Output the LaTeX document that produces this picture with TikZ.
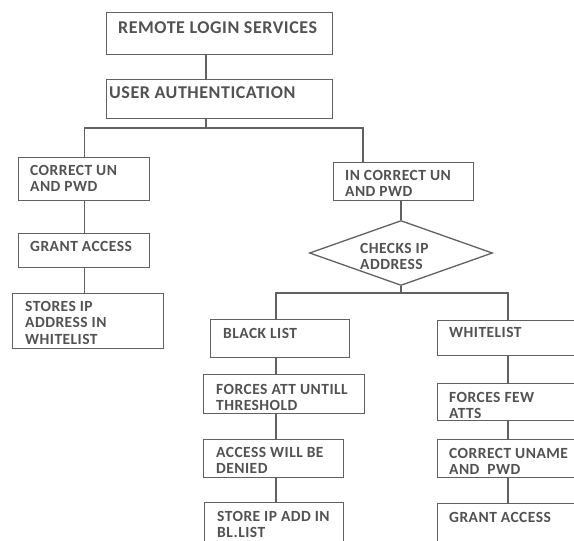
\documentclass[tikz,border=0pt]{standalone}
\usepackage{fontspec}
\setmainfont{Carlito}[LetterSpace=3]
\usetikzlibrary{shapes.geometric}

\begin{document}
\begin{tikzpicture}[x=1pt, y=-1pt]
	\tikzset{
		box/.style={draw=black!62, line width=1.3pt, rectangle, anchor=north west, inner sep=0pt},
		txt/.style={anchor=north west, inner sep=0pt, align=left, text=black!68,
			font=\bfseries\fontsize{15.5}{16.5}\selectfont},
		bigtxt/.style={txt, font=\bfseries\fontsize{18}{20}\selectfont},
		link/.style={draw=black!62, line width=1.3pt},
	}
	% box: name, corner, size, text offset, text style, text
	\def\Box(#1)(#2,#3)(#4,#5)(#6,#7)[#8]#9{%
		\node[box, minimum width=#4pt, minimum height=#5pt] (#1) at (#2,#3) {};
		\node[#8] (#1-t) at ([shift={(#6,#7)}]#1.north west) {#9};}
	\useasboundingbox (0,0) rectangle (574,541);

	% top of the chart
	\Box(remote)(106,12)(226,42)(12,9)[bigtxt]{REMOTE LOGIN SERVICES}
	\Box(auth)(106,79)(226,39)(3,7)[bigtxt]{USER AUTHENTICATION}

	% correct login branch
	\Box(correct)(18,157)(131,43)(12,8)[txt]{CORRECT UN\\AND PWD}
	\Box(grant)(18,233)(131,34)(12,8)[txt]{GRANT ACCESS}
	\Box(stores)(12,293)(151,55)(13,8)[txt]{STORES IP\\ADDRESS IN\\WHITELIST}

	% wrong login branch
	\Box(incorrect)(333,162)(140,38)(12,8)[txt]{IN CORRECT UN\\AND PWD}
	\node[diamond, draw=black!62, line width=1.3pt, inner sep=0pt,
		minimum width=183pt, minimum height=65pt] (check) at (401,253) {};
	\node[txt] (check-t) at (360,243) {CHECKS IP\\ADDRESS};

	% black list column
	\Box(black)(210,319)(139,38)(13,9)[txt]{BLACK LIST}
	\Box(forcesatt)(203,374)(161,39)(13,10)[txt]{FORCES ATT UNTILL\\THRESHOLD}
	\Box(denied)(203,439)(140,38)(13,8)[txt]{ACCESS WILL BE\\DENIED}
	\Box(storebl)(204,502)(139,40)(13,9)[txt]{STORE IP ADD IN\\BL.LIST}

	% white list column
	\Box(white)(437,320)(142,35)(12,7)[txt]{WHITELIST}
	\Box(fewatts)(437,383)(142,37)(12,9)[txt]{FORCES FEW\\ATTS}
	\Box(uname)(437,439)(142,38)(12,9)[txt]{CORRECT UNAME\\AND\ \ PWD}
	\Box(grantr)(437,503)(142,40)(12,9)[txt]{GRANT ACCESS}

	% split points
	\coordinate (trunk) at (206,128);
	\coordinate (rtrunk) at (363,128);
	\coordinate (dsplit) at (401,293);
	\coordinate (lcol) at (276,293);
	\coordinate (rcol) at (508,293);

	% connectors
	\draw[link] (trunk |- remote.south) -- (trunk |- auth.north);
	\draw[link] (trunk |- auth.south) -- (trunk);
	\draw[link] (correct.north) |- (rtrunk) -- (rtrunk |- incorrect.north);
	\draw[link] (correct.south) -- (grant.north);
	\draw[link] (grant.south) -- (grant.south |- stores.north);
	\draw[link] (check.north |- incorrect.south) -- (check.north);
	\draw[link] (check.south) -- (dsplit);
	\draw[link] (lcol |- black.north) -- (lcol) -- (rcol) -- (rcol |- white.north);
	\draw[link] (lcol |- black.south) -- (lcol |- forcesatt.north);
	\draw[link] (lcol |- forcesatt.south) -- (lcol |- denied.north);
	\draw[link] (lcol |- denied.south) -- (lcol |- storebl.north);
	\draw[link] (rcol |- white.south) -- (rcol |- fewatts.north);
	\draw[link] (rcol |- fewatts.south) -- (rcol |- uname.north);
	\draw[link] (rcol |- uname.south) -- (rcol |- grantr.north);
\end{tikzpicture}
\end{document}
